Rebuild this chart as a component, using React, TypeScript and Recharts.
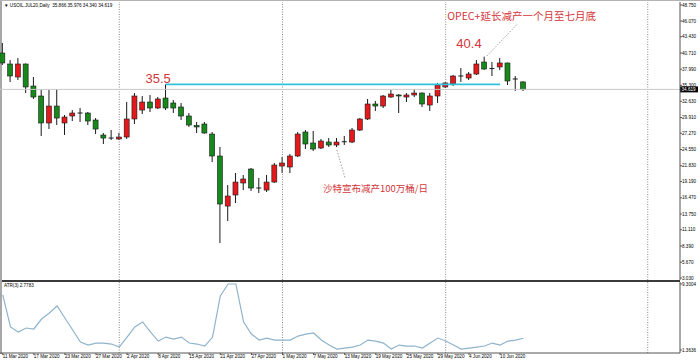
import React from "react"
import { ComposedChart, Bar, Line, XAxis, YAxis, ReferenceLine, ReferenceDot } from "recharts"

const dates = [
  "11 Mar 2020", "17 Mar 2020", "23 Mar 2020", "27 Mar 2020", "2 Apr 2020", "8 Apr 2020",
  "15 Apr 2020", "21 Apr 2020", "27 Apr 2020", "1 May 2020", "7 May 2020", "13 May 2020",
  "19 May 2020", "25 May 2020", "29 May 2020", "4 Jun 2020", "10 Jun 2020",
]
const dateTicks = [0, 4, 8, 12, 16, 20, 24, 28, 32, 36, 40, 44, 48, 52, 56, 60, 64]

const opens = [
  40.71, 38.87, 36.69, 38.87, 35.18, 33.51, 28.99, 31.83, 28.99, 30.16, 30.66, 30.66, 29.49, 26.98, 26.47, 26.31,
  26.64, 29.66, 31.16, 32.5, 31.5, 33.17, 32.34, 31.67, 30.16, 28.57, 28.82, 27.14, 23.46, 15.08, 16.93, 18.94,
  21.28, 18.1, 17.76, 19.1, 21.78, 21.62, 23.46, 27.48, 25.64, 24.8, 25.8, 25.3, 25.8, 25.8, 27.81, 29.66,
  32.17, 31.83, 33.34, 33.68, 33.34, 33.68, 34.01, 32.0, 33.51, 35.02, 35.52, 36.86, 36.52, 37.19, 39.2, 38.03,
  38.37, 39.04, 36.36, 35.866,
]
const highs = [
  42.39, 39.54, 39.87, 38.95, 36.69, 34.51, 34.51, 34.68, 30.33, 31.16, 31.5, 30.83, 29.82, 27.31, 27.81, 27.31,
  32.5, 34.01, 33.51, 33.68, 33.34, 35.45, 32.84, 32.34, 30.66, 29.15, 29.15, 27.48, 24.97, 18.6, 20.61, 20.28,
  21.45, 19.77, 20.28, 22.29, 23.29, 23.79, 27.48, 27.81, 27.65, 26.31, 26.47, 26.47, 26.81, 28.15, 29.82, 33.01,
  32.67, 33.68, 34.51, 33.84, 34.01, 34.68, 34.1, 34.01, 35.69, 35.85, 37.03, 38.2, 37.53, 39.54, 40.1, 39.2,
  39.87, 39.1, 36.86, 35.976,
]
const lows = [
  38.7, 35.85, 36.19, 34.01, 33.01, 26.81, 27.98, 28.65, 26.98, 29.32, 29.15, 28.65, 27.14, 25.47, 26.14, 26.14,
  26.31, 28.82, 30.49, 30.83, 31.33, 31.16, 30.66, 29.49, 28.32, 27.31, 27.2, 22.45, 8.89, 12.57, 15.59, 17.76,
  17.6, 17.26, 17.43, 18.94, 20.61, 20.61, 23.29, 24.63, 24.3, 24.63, 24.97, 24.97, 25.3, 25.64, 27.65, 29.49,
  31.0, 31.5, 33.2, 30.66, 32.5, 33.34, 31.67, 31.0, 32.34, 34.85, 35.18, 35.85, 36.19, 37.03, 37.86, 36.86,
  37.86, 35.35, 34.35, 34.34,
]
const closes = [
  39.04, 36.86, 38.87, 35.02, 33.34, 28.99, 31.83, 29.82, 29.99, 30.66, 30.6, 29.32, 27.98, 26.47, 26.42, 26.64,
  29.66, 33.51, 32.5, 31.5, 33.01, 31.5, 31.5, 30.16, 28.65, 28.32, 27.31, 23.46, 15.42, 16.76, 19.1, 19.61,
  18.1, 18.05, 19.1, 21.95, 22.29, 23.46, 27.14, 25.47, 24.63, 25.97, 25.3, 25.8, 25.85, 27.81, 29.66, 32.17,
  31.83, 33.51, 33.84, 33.51, 33.68, 34.01, 32.17, 33.51, 35.35, 35.69, 36.86, 36.75, 37.19, 38.87, 38.03, 38.1,
  39.04, 36.02, 36.3, 34.619,
]
const atrValues = [
  7.98, 4.13, 3.53, 4.01, 3.89, 5.09, 5.81, 6.65, 5.21, 3.77, 2.32, 1.96, 2.2, 2.2, 2.08, 1.72,
  2.92, 4.13, 4.73, 3.53, 2.44, 2.92, 2.68, 2.92, 2.2, 2.08, 1.84, 2.92, 7.86, 9.3, 9.3, 4.73,
  3.28, 2.56, 2.8, 2.56, 2.56, 2.56, 3.04, 3.28, 3.41, 2.56, 1.96, 1.48, 1.6, 1.72, 1.96, 2.56,
  2.44, 2.2, 1.48, 1.96, 1.84, 1.84, 1.6, 2.2, 2.8, 2.44, 1.96, 1.48, 1.6, 1.72, 1.84, 2.2,
  1.96, 2.44, 2.56, 2.7783,
]

const priceTicks = [48.75, 46.07, 43.43, 40.71, 37.99, 35.3, 32.63, 29.91, 27.27, 24.55, 21.83, 19.19, 16.47, 13.75, 11.11, 8.39, 5.67, 3.03]
const atrTicks = [9.3004, 1.3636]
const monthLines = [15, 36, 57, 83]
const lastPrice = 34.619
const resistance = 35.45

const candles = opens.map((o, i) => ({ i, open: o, high: highs[i], low: lows[i], close: closes[i] }))
const atrData = atrValues.map((v, i) => ({ i, atr: v }))

const RED = "#e3191c"
const GREEN = "#17891b"
const NOTE = "#d4353a"
const FONT = "'Liberation Sans', Arial, sans-serif"
const CJK = "'Noto Sans CJK SC', 'Noto Sans', sans-serif"
const xDomain: [number, number] = [-0.35, 87.15]

function Candle(props: any) {
  const { x, y, width, height, payload } = props
  if (!payload) return null
  const { open, close, high, low } = payload
  const top = height >= 0 ? y : y + height
  const h = Math.abs(height)
  const span = high - low
  const py = (p: number) => (span > 0 ? top + ((high - p) / span) * h : top)
  const cx = x + width / 2
  const bTop = py(Math.max(open, close))
  const bBot = py(Math.min(open, close))
  const fill = close > open ? RED : GREEN
  return (
    <g>
      <line x1={cx} x2={cx} y1={top} y2={top + h} stroke="#1a1a1a" strokeWidth={1} />
      {bBot - bTop < 0.9 ? (
        <line x1={x} x2={x + width} y1={bTop} y2={bTop} stroke="#1a1a1a" strokeWidth={1} />
      ) : (
        <rect x={x} y={bTop} width={width} height={bBot - bTop} fill={fill} stroke="#1a1a1a" strokeWidth={0.6} />
      )}
    </g>
  )
}

function PriceTick({ x, y, payload }: any) {
  return (
    <text x={x} y={y} dy="0.35em" fontSize={4.6} fontFamily={FONT} fill="#000" textAnchor="start">
      {payload.value.toFixed(3)}
    </text>
  )
}

function AtrTick({ x, y, payload }: any) {
  return (
    <text x={x} y={y} dy="0.35em" fontSize={4.6} fontFamily={FONT} fill="#000" textAnchor="start">
      {payload.value.toFixed(4)}
    </text>
  )
}

function DateTick({ x, y, payload }: any) {
  const k = dateTicks.indexOf(payload.value)
  return (
    <text x={x} y={y + 3.4} fontSize={4.6} fontFamily={FONT} fill="#000" textAnchor="start">
      {k >= 0 ? dates[k] : ""}
    </text>
  )
}

function PriceTag({ viewBox }: any) {
  if (!viewBox) return null
  const x = viewBox.x + viewBox.width
  const y = viewBox.y
  return (
    <g>
      <rect x={x} y={y - 3} width={18} height={6} fill="#000" />
      <text x={x + 1.5} y={y} dy="0.35em" fontSize={4.6} fontFamily={FONT} fill="#fff">
        {lastPrice.toFixed(3)}
      </text>
    </g>
  )
}

function Note({ viewBox, text, size, anchor, family }: any) {
  if (!viewBox) return null
  const cx = viewBox.x + (viewBox.width || 0) / 2
  const cy = viewBox.y + (viewBox.height || 0) / 2
  return (
    <text x={cx} y={cy} fontSize={size} fontFamily={family} fill={NOTE} textAnchor={anchor}>
      {text}
    </text>
  )
}

export default function App() {
  return (
    <div style={{ position: "absolute", left: 0, top: 0, width: 700, height: 364, background: "#fff", overflow: "hidden" }}>
      <div style={{ position: "absolute", left: 0, top: 0, width: 2, height: 354, background: "#a8a8a8" }} />
      <div style={{ position: "absolute", left: 0, top: 0, width: 700, height: 1, background: "#b4b4b4" }} />

      <div style={{ position: "absolute", left: 0, top: 0 }}>
        <ComposedChart width={700} height={280} data={candles} margin={{ top: 2, right: 0, bottom: 0, left: 0 }}>
          <XAxis dataKey="i" type="number" domain={xDomain} allowDataOverflow hide />
          <YAxis
            orientation="right"
            type="number"
            domain={[2.695, 49.2525]}
            allowDataOverflow
            ticks={priceTicks}
            interval={0}
            width={20}
            tickSize={2}
            tickMargin={0}
            axisLine={{ stroke: "#555" }}
            tickLine={{ stroke: "#555" }}
            tick={<PriceTick />}
          />
          {monthLines.map((m) => (
            <ReferenceLine key={m} x={m} stroke="#6a6a6a" strokeWidth={0.8} strokeDasharray="1 1.5" />
          ))}
          <ReferenceLine y={lastPrice} stroke="#c8c8c8" strokeWidth={1} label={<PriceTag />} />
          <ReferenceLine segment={[{ x: 21, y: resistance }, { x: 64, y: resistance }]} stroke="#2cc3dc" strokeWidth={1.6} />
          <ReferenceLine segment={[{ x: 43, y: 24.46 }, { x: 44.05, y: 19.77 }]} stroke="#8a8a8a" strokeWidth={0.8} strokeDasharray="1.5 1.5" />
          <ReferenceLine segment={[{ x: 62.3, y: 40.21 }, { x: 66.23, y: 45.57 }]} stroke="#8a8a8a" strokeWidth={0.8} strokeDasharray="1.5 1.5" />
          <Bar dataKey={(d: any) => [d.low, d.high]} barSize={5} shape={<Candle />} isAnimationActive={false} />
          <ReferenceDot x={20} y={35.69} r={0} fill="none" stroke="none" label={<Note text="35.5" size={13} anchor="middle" family={FONT} />} />
          <ReferenceDot x={60} y={41.55} r={0} fill="none" stroke="none" label={<Note text="40.4" size={13} anchor="middle" family={FONT} />} />
          <ReferenceDot x={57.2} y={46.24} r={0} fill="none" stroke="none" label={<Note text="OPEC+延长减产一个月至七月底" size={10.5} anchor="start" family={CJK} />} />
          <ReferenceDot x={41.2} y={17.43} r={0} fill="none" stroke="none" label={<Note text="沙特宣布减产100万桶/日" size={9.5} anchor="start" family={CJK} />} />
        </ComposedChart>
      </div>

      <div style={{ position: "absolute", left: 2, top: 280, width: 678, height: 1.5, background: "#3a3a3a" }} />

      <div style={{ position: "absolute", left: 0, top: 281 }}>
        <ComposedChart width={700} height={83} data={atrData} margin={{ top: 1, right: 0, bottom: 0, left: 0 }}>
          <XAxis
            dataKey="i"
            type="number"
            domain={xDomain}
            allowDataOverflow
            ticks={dateTicks}
            interval={0}
            height={11}
            tickSize={2}
            tickMargin={0}
            axisLine={{ stroke: "#555" }}
            tickLine={{ stroke: "#555" }}
            tick={<DateTick />}
          />
          <YAxis
            orientation="right"
            type="number"
            domain={[1.0029, 9.5409]}
            allowDataOverflow
            ticks={atrTicks}
            interval={0}
            width={20}
            tickSize={2}
            tickMargin={0}
            axisLine={{ stroke: "#555" }}
            tickLine={{ stroke: "#555" }}
            tick={<AtrTick />}
          />
          {monthLines.map((m) => (
            <ReferenceLine key={m} x={m} stroke="#6a6a6a" strokeWidth={0.8} strokeDasharray="1 1.5" />
          ))}
          <Line dataKey="atr" type="linear" stroke="#8fb3cc" strokeWidth={1.2} dot={false} isAnimationActive={false} />
        </ComposedChart>
      </div>

      <div style={{ position: "absolute", left: 4, top: 3, fontSize: 4.6, fontFamily: FONT, color: "#000", whiteSpace: "nowrap", lineHeight: "5px" }}>
        ▼ USOIL.JUL20,Daily&nbsp;&nbsp;35.866 35.976 34.340 34.619
      </div>
      <div style={{ position: "absolute", left: 4, top: 283, fontSize: 4.6, fontFamily: FONT, color: "#000", whiteSpace: "nowrap", lineHeight: "5px" }}>
        ATR(3) 2.7783
      </div>
    </div>
  )
}
